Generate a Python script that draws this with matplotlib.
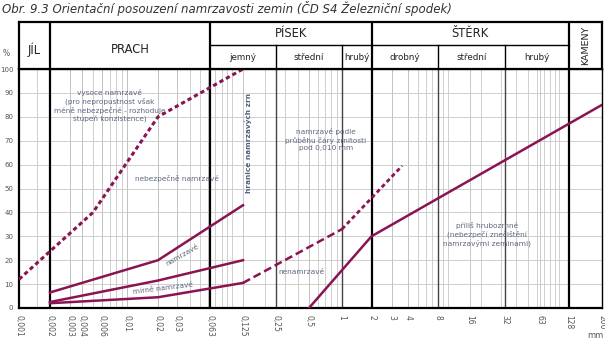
import numpy as np
import matplotlib
matplotlib.use("Agg")
import matplotlib.pyplot as plt
from matplotlib.ticker import FixedLocator, NullLocator

# ---- data -------------------------------------------------------------
X_TICKS = [0.001, 0.002, 0.003, 0.004, 0.006, 0.01, 0.02, 0.03, 0.063, 0.125,
           0.25, 0.5, 1, 2, 3, 4, 8, 16, 32, 63, 128, 200]
X_TICK_LABELS = ["0,001", "0,002", "0,003", "0,004", "0,006", "0,01", "0,02",
                 "0,03", "0,063", "0,125", "0,25", "0,5", "1", "2", "3", "4",
                 "8", "16", "32", "63", "128", "200"]
Y_TICKS = [0, 10, 20, 30, 40, 50, 60, 70, 80, 90, 100]

# boundary curves (grain size in mm, passing percentage)
TOP_X = [0.001, 0.005, 0.02, 0.125]
TOP_Y = [12, 40, 80, 100]
UPPER_X = [0.002, 0.02, 0.125]
UPPER_Y = [6.5, 20, 43]
MID_X = [0.002, 0.02, 0.125]
MID_Y = [2.5, 11.5, 20]
LOW_X = [0.002, 0.02, 0.125]
LOW_Y = [2, 4.5, 10.5]
LOW_DASH_X = [0.125, 1]
LOW_DASH_Y = [10.5, 33]
LOW_DOT_X = [1, 3.6]
LOW_DOT_Y = [33, 59.5]
COARSE_X = [0.5, 2, 200]
COARSE_Y = [0, 30, 85]

# soil class boundaries (mm)
MAIN_BOUNDS = [0.002, 0.063, 2, 128]
SUB_BOUNDS = [0.25, 1, 8, 32]

# ---- grain-size axis: graph-paper scale anchored at the tick values -----
TICK_PX = [19, 50, 70, 82, 102, 127, 158, 177, 210, 243, 276, 309, 342,
           371.5, 392, 408, 438, 470, 504.5, 540, 569, 602]
LOG_ANCHOR = np.log10(X_TICKS)


def fwd(x):
    x = np.asarray(x, dtype=float)
    lx = np.log10(np.where(x > 0, x, 1e-9))
    return np.interp(lx, LOG_ANCHOR, TICK_PX)


def inv(p):
    p = np.asarray(p, dtype=float)
    return 10 ** np.interp(p, TICK_PX, LOG_ANCHOR)


def mid(a, b):
    return float(inv((fwd(a) + fwd(b)) / 2))


W, H = 605, 341
fig = plt.figure(figsize=(W / 100, H / 100), dpi=100)
fig.patch.set_facecolor("white")

ax = fig.add_axes([19 / W, 1 - 308 / H, (602 - 19) / W, (308 - 69) / H])
hdr = fig.add_axes([19 / W, 1 - 69 / H, (602 - 19) / W, (69 - 22) / H], sharex=ax)

ax.set_xscale("function", functions=(fwd, inv))
ax.set_xlim(0.001, 200)
ax.set_ylim(0, 100)

CURVE = "#8a1452"
TXT = "#5f6780"

# light grid
minor = [k * 10.0 ** e for e in range(-3, 3) for k in range(1, 10)] + [0.0015]
for v in minor:
    if 0.001 < v < 200 and v not in MAIN_BOUNDS and v not in SUB_BOUNDS:
        ax.axvline(v, color="#c8c8c8", lw=0.6, zorder=0)
for t in X_TICKS[1:-1]:
    if t not in MAIN_BOUNDS and t not in SUB_BOUNDS:
        ax.axvline(t, color="#c0c0c0", lw=0.6, zorder=0)
for y in Y_TICKS[1:-1]:
    ax.axhline(y, color="#c8c8c8", lw=0.6, zorder=0)

for v in SUB_BOUNDS:
    ax.axvline(v, color="#444444", lw=1.0, zorder=1)
for v in MAIN_BOUNDS:
    ax.axvline(v, color="black", lw=1.6, zorder=1)

# curves
ax.plot(TOP_X, TOP_Y, color=CURVE, lw=2.2, dashes=(1.4, 1.0), zorder=3)
ax.plot(UPPER_X, UPPER_Y, color=CURVE, lw=1.8, zorder=3)
ax.plot(MID_X, MID_Y, color=CURVE, lw=1.8, zorder=3)
ax.plot(LOW_X, LOW_Y, color=CURVE, lw=1.8, zorder=3)
ax.plot(LOW_DASH_X, LOW_DASH_Y, color=CURVE, lw=1.8, dashes=(3.2, 1.6), zorder=3)
ax.plot(LOW_DOT_X, LOW_DOT_Y, color=CURVE, lw=2.0, dashes=(1.5, 1.1), zorder=3)
ax.plot(COARSE_X, COARSE_Y, color=CURVE, lw=1.8, zorder=3)

# ticks
ax.xaxis.set_major_locator(FixedLocator(X_TICKS))
ax.xaxis.set_minor_locator(NullLocator())
ax.set_xticklabels(X_TICK_LABELS, rotation=270, fontsize=5.5, color="#555555")
ax.set_yticks(Y_TICKS)
ax.set_yticklabels([str(v) for v in Y_TICKS], fontsize=5, color="#555555")
ax.tick_params(axis="both", length=0)
ax.tick_params(axis="x", pad=5)
ax.tick_params(axis="y", pad=4)
for s in ["left", "bottom", "top"]:
    ax.spines[s].set_linewidth(1.6)
    ax.spines[s].set_color("black")
ax.spines["right"].set_linewidth(1.0)
ax.spines["right"].set_color("black")

# annotations
ax.text(0.007, 84.5, "vysoce namrzavé\n(pro nepropustnost však\nméně nebezpečné - rozhoduje\nstupeň konzistence)",
        ha="center", va="center", fontsize=5.3, color=TXT, linespacing=1.25, zorder=2)
ax.text(0.03, 54, "nebezpečně namrzavé", ha="center", va="center",
        fontsize=5.3, color=TXT, zorder=2)
ax.text(0.034, 22, "namrzavé", ha="center", va="center", rotation=30,
        fontsize=5.3, color=TXT, zorder=2)
ax.text(0.022, 8.3, "mírně namrzavé", ha="center", va="center", rotation=7,
        fontsize=5.3, color=TXT, zorder=2)
ax.text(0.139, 69, "hranice namrzavých zrn", ha="center", va="center",
        rotation=90, fontsize=5.3, fontweight="bold", color="#56607a", zorder=2)
ax.text(0.714, 70.4, "namrzavé podle\nprůběhu čáry zrnitosti\npod 0,010 mm",
        ha="center", va="center", fontsize=5.3, color=TXT, linespacing=1.25, zorder=2)
ax.text(0.43, 15.1, "nenamrzavé", ha="center", va="center",
        fontsize=5.3, color=TXT, zorder=2)
ax.text(22.5, 30.9, "příliš hrubozrnné\n(nebezpečí znečištění\nnamrzavými zeminami)",
        ha="center", va="center", fontsize=5.3, color=TXT, linespacing=1.25, zorder=2)

# header table
hdr.set_ylim(0, 1)
hdr.tick_params(axis="both", length=0, labelbottom=False, labelleft=False)
for s in hdr.spines.values():
    s.set_linewidth(1.6)
    s.set_color("black")
ROW = 0.51
for v in MAIN_BOUNDS:
    hdr.axvline(v, color="black", lw=1.6)
for v in SUB_BOUNDS:
    hdr.axvline(v, ymin=0, ymax=ROW, color="black", lw=1.0)
hdr.plot([0.063, 128], [ROW, ROW], color="black", lw=1.0)

HC = "#222222"
hdr.text(mid(0.001, 0.002), 0.42, "JÍL", ha="center", va="center", fontsize=8.3, color=HC)
hdr.text(mid(0.002, 0.063), 0.42, "PRACH", ha="center", va="center", fontsize=8.3, color=HC)
hdr.text(mid(0.063, 2), 0.76, "PÍSEK", ha="center", va="center", fontsize=8.3, color=HC)
hdr.text(mid(2, 128), 0.76, "ŠTĚRK", ha="center", va="center", fontsize=8.3, color=HC)
hdr.text(mid(128, 200), 0.5, "KAMENY", ha="center", va="center", rotation=90,
         fontsize=6.8, color=HC)
for a, b, lab in [(0.063, 0.25, "jemný"), (0.25, 1, "střední"), (1, 2, "hrubý"),
                  (2, 8, "drobný"), (8, 32, "střední"), (32, 128, "hrubý")]:
    hdr.text(mid(a, b), 0.25, lab, ha="center", va="center", fontsize=6.3, color=HC)

# figure texts
fig.text(2 / W, 1 - 8 / H,
         "Obr. 9.3 Orientační posouzení namrzavosti zemin (ČD S4 Železniční spodek)",
         ha="left", va="center", fontsize=8.5, style="italic", color="#333333")
fig.text(6 / W, 1 - 53 / H, "%", ha="center", va="center", fontsize=5.5, color="#555555")
fig.text(595 / W, 1 - 335 / H, "mm", ha="center", va="center", fontsize=6, color="#555555")

fig.savefig("out.png", dpi=100)
